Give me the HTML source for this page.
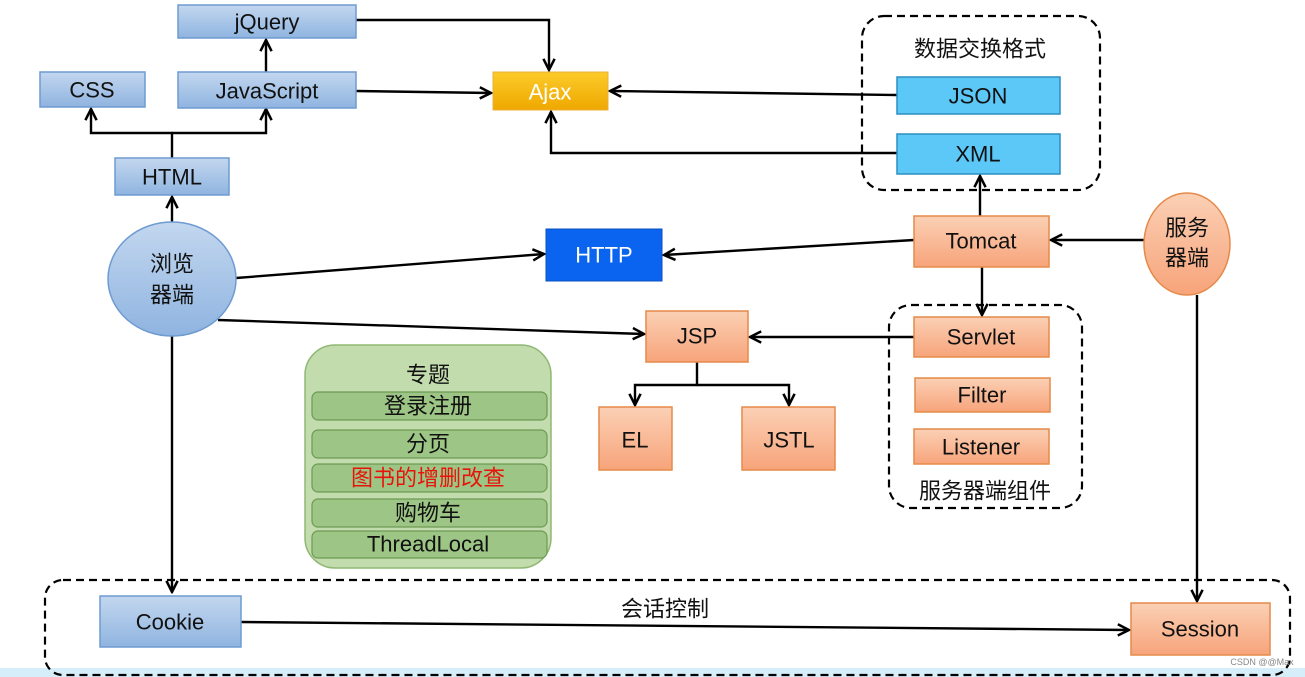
<!DOCTYPE html><html><head><meta charset="utf-8"><style>body{margin:0;background:#fff}svg{display:block}text{font-family:"Liberation Sans","Noto Sans CJK SC",sans-serif;text-anchor:middle;dominant-baseline:central}</style></head><body>
<svg width="1305" height="677" viewBox="0 0 1305 677">
<defs>
<marker id="a" viewBox="0 0 10 10" refX="9" refY="5" markerWidth="14" markerHeight="14" markerUnits="userSpaceOnUse" orient="auto"><path d="M1,1 L9,5 L1,9" fill="none" stroke="#000" stroke-width="1.8"/></marker>
<linearGradient id="bl" x1="0" y1="0" x2="0" y2="1"><stop offset="0" stop-color="#c3d7ef"/><stop offset="1" stop-color="#8fb4e0"/></linearGradient>
<linearGradient id="or" x1="0" y1="0" x2="0" y2="1"><stop offset="0" stop-color="#fbd0b5"/><stop offset="1" stop-color="#f7a47a"/></linearGradient>
<linearGradient id="aj" x1="0" y1="0" x2="0" y2="1"><stop offset="0" stop-color="#fccb2a"/><stop offset="1" stop-color="#efa800"/></linearGradient>
</defs>
<rect x="0" y="668" width="1305" height="9" fill="#d6eefa"/>
<g fill="none" stroke="#000" stroke-width="2.2" stroke-dasharray="8,5">
<rect x="862" y="16" width="238" height="174" rx="22"/>
<rect x="889" y="305" width="193" height="203" rx="22"/>
<rect x="45" y="580" width="1245" height="95" rx="18"/>
</g>
<g stroke="#000" stroke-width="2.4" fill="none" marker-end="url(#a)">
<path d="M172,222 V197"/>
<path d="M172,158 V133 H91 V109"/>
<path d="M172,133 H266 V109"/>
<path d="M266,72 V40"/>
<path d="M356,20 H549 V70"/>
<path d="M356,91 L491,93"/>
<path d="M897,95 L610,91"/>
<path d="M897,153 H551 V112"/>
<path d="M980,216 V176"/>
<path d="M982,267 V315"/>
<path d="M1144,240 H1051"/>
<path d="M914,240 L664,255"/>
<path d="M236,278 L544,254"/>
<path d="M218,320 L644,334"/>
<path d="M914,337 H750"/>
<path d="M697,362 V385 H635 V405"/>
<path d="M697,385 H789 V405"/>
<path d="M172,336 V592"/>
<path d="M1197,295 V601"/>
<path d="M241,622 L1129,630"/>
</g>
<g stroke="#6f9bd1" stroke-width="1.5" fill="url(#bl)">
<rect x="178" y="5" width="178" height="33"/><rect x="40" y="72" width="105" height="35"/><rect x="178" y="72" width="178" height="36"/><rect x="115" y="158" width="114" height="37"/><rect x="100" y="596" width="141" height="51"/>
<ellipse cx="172" cy="279" rx="64" ry="57"/>
</g>
<rect x="493" y="72" width="115" height="38" fill="url(#aj)" stroke="#e8b040"/>
<rect x="546" y="229" width="116" height="52" fill="#0a64f0" stroke="#0a50c0"/>
<g fill="#5cc8f7" stroke="#2d8fc0" stroke-width="1.5"><rect x="897" y="77" width="163" height="37"/><rect x="897" y="134" width="163" height="40"/></g>
<g fill="url(#or)" stroke="#e58a4a" stroke-width="1.5">
<rect x="914" y="216" width="135" height="51"/><rect x="646" y="311" width="102" height="51"/><rect x="914" y="317" width="135" height="40"/><rect x="915" y="378" width="135" height="34"/><rect x="914" y="429" width="135" height="35"/><rect x="599" y="407" width="73" height="63"/><rect x="742" y="407" width="93" height="63"/><rect x="1131" y="603" width="139" height="52"/>
<ellipse cx="1187" cy="244" rx="43" ry="51"/>
</g>
<rect x="305" y="345" width="246" height="223" rx="30" fill="#c3dcae" stroke="#8fb874" stroke-width="1.5"/>
<g fill="#9dc585" stroke="#6e9a55" stroke-width="1.2">
<rect x="312" y="392" width="235" height="28" rx="6"/><rect x="312" y="430" width="235" height="28" rx="6"/><rect x="312" y="464" width="235" height="28" rx="6"/><rect x="312" y="499" width="235" height="28" rx="6"/><rect x="312" y="531" width="235" height="27" rx="6"/>
</g>
<g font-size="22" fill="#111">
<text x="267" y="22">jQuery</text><text x="92" y="90">CSS</text><text x="267" y="91">JavaScript</text><text x="172" y="177">HTML</text>
<text x="172" y="264">浏览</text><text x="172" y="295">器端</text>
<text x="550" y="92" fill="#fff">Ajax</text><text x="604" y="255" fill="#fff">HTTP</text>
<text x="980" y="49">数据交换格式</text><text x="978" y="96">JSON</text><text x="978" y="154">XML</text>
<text x="981" y="241">Tomcat</text><text x="1187" y="228">服务</text><text x="1187" y="258">器端</text>
<text x="697" y="336">JSP</text><text x="981" y="337">Servlet</text><text x="982" y="395">Filter</text><text x="981" y="447">Listener</text><text x="985" y="491">服务器端组件</text>
<text x="635" y="440">EL</text><text x="789" y="440">JSTL</text>
<text x="428" y="375">专题</text><text x="428" y="406">登录注册</text><text x="428" y="444">分页</text><text x="428" y="478" fill="#e8140a">图书的增删改查</text><text x="428" y="513">购物车</text><text x="428" y="544">ThreadLocal</text>
<text x="170" y="622">Cookie</text><text x="665" y="609">会话控制</text><text x="1200" y="629">Session</text>
</g>
<text x="1262" y="662" font-size="9" fill="#888">CSDN @@Max</text>
</svg></body></html>
